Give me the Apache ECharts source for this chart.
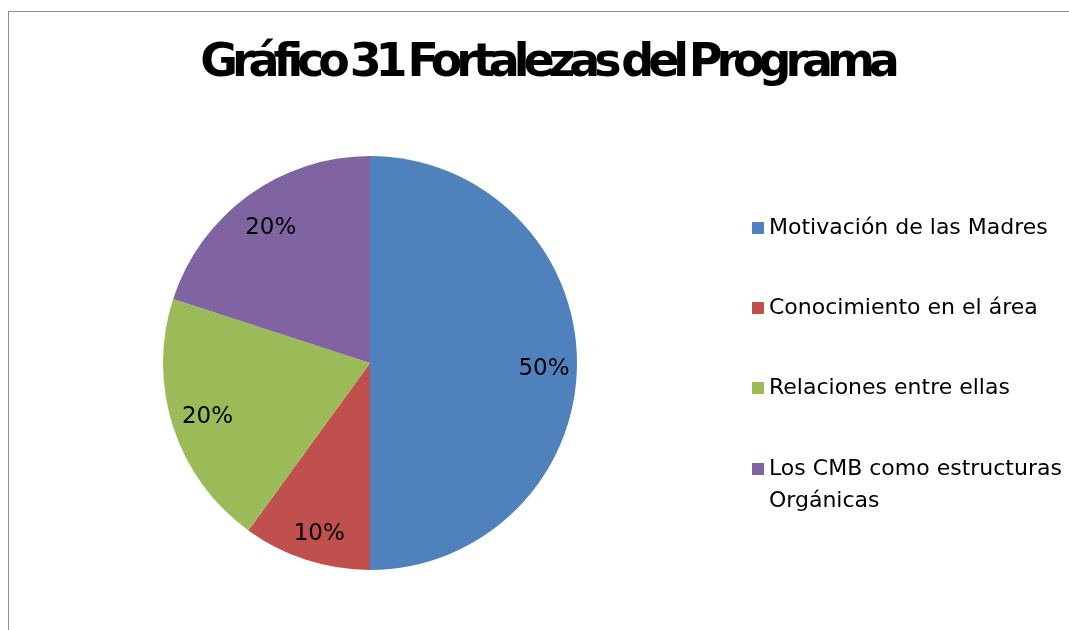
<!DOCTYPE html>
<html>
<head>
<meta charset="utf-8">
<script src="https://cdn.jsdelivr.net/npm/echarts@6/dist/echarts.min.js"></script>
<style>
html,body{margin:0;padding:0;background:#fff;overflow:hidden;}
#frame{position:absolute;left:8px;top:11px;width:1100px;height:660px;border:1px solid #8c8c8c;box-shadow:1px 1px 1px #bbb;}
#chart{position:absolute;left:0;top:0;width:1069px;height:630px;}
#titulo{position:absolute;left:-3px;top:33px;width:1100px;text-align:center;font-family:'DejaVu Sans';font-weight:bold;font-size:46px;line-height:54px;letter-spacing:-6.1px;word-spacing:-4px;color:#000;z-index:2;white-space:nowrap;}
</style>
</head>
<body>
<div id="frame"></div>
<div id="chart"></div>
<div id="titulo">Gráfico 31 Fortalezas del Programa</div>
<script>
// datos del grafico
let categorias = ['Motivación de las Madres', 'Conocimiento en el área', 'Relaciones entre ellas', 'Los CMB como estructuras\nOrgánicas'];
let valores = [50, 10, 20, 20];
let colores = ['#4F81BD', '#C0504D', '#9BBB59', '#8064A2'];
// ajuste fino de las etiquetas de porcentaje
let desplazEtiqueta = [[0, 6], [3, 6], [3, 0], [3, 6]];

let datos = categorias.map(function (c, i) {
    return {name: c, value: valores[i], itemStyle: {color: colores[i]}};
});

// una leyenda por categoria para poder colocarlas como en el original
let leyendaTop = [207, 287, 367, 416];
let leyendas = categorias.map(function (c, i) {
    return {
        orient: 'vertical',
        left: 747,
        top: leyendaTop[i],
        itemWidth: 12,
        itemHeight: 12,
        icon: 'rect',
        selectedMode: false,
        data: [c],
        // la ultima tiene dos lineas: linea vacia arriba para alinear el icono con la primera
        formatter: function (name) {
            return name.indexOf('\n') >= 0 ? ' \n' + name : name;
        },
        textStyle: {fontFamily: 'DejaVu Sans', fontSize: 22, color: '#000', lineHeight: 32}
    };
});

let chart = echarts.init(document.getElementById('chart'), null, {renderer: 'canvas'});
let option = {
    animation: false,
    legend: leyendas,
    series: [{
        // pastel visible
        type: 'pie',
        center: [370, 363],
        radius: [0, 207],
        startAngle: 90,
        clockwise: true,
        label: {show: false},
        labelLine: {show: false},
        emphasis: {disabled: true},
        data: datos
    }, {
        // serie transparente solo para colocar las etiquetas cerca del borde
        type: 'pie',
        silent: true,
        center: [370, 363],
        radius: [0, 342],
        startAngle: 90,
        clockwise: true,
        itemStyle: {color: 'rgba(0,0,0,0)'},
        label: {
            show: true,
            position: 'inside',
            formatter: '{d}%',
            fontFamily: 'DejaVu Sans',
            fontSize: 23,
            color: '#000'
        },
        labelLine: {show: false},
        emphasis: {disabled: true},
        data: categorias.map(function (c, i) {
            return {name: c, value: valores[i], label: {offset: desplazEtiqueta[i]}};
        })
    }]
};
chart.setOption(option);
</script>
</body>
</html>
